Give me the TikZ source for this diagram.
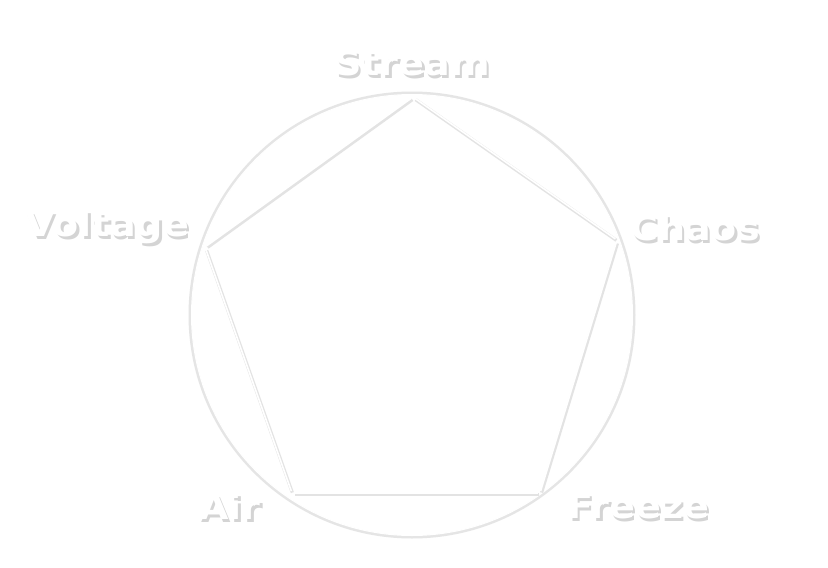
\documentclass[tikz,border=0pt]{standalone}
\usepackage{fontspec}
\setmainfont{DejaVu Sans}
\newfontfamily\wide[FakeStretch=1.12]{DejaVu Sans}
\newcommand{\shtxt}[1]{\rlap{\raisebox{-3pt}{\hspace{2.5pt}\textcolor{black!17}{#1}}}#1}
\begin{document}
\begin{tikzpicture}[x=1pt,y=-1pt,
  lbl/.style={font=\wide\bfseries\fontsize{34}{36}\selectfont, text=white, inner sep=0pt},
  vtx/.style={inner sep=0pt, minimum size=14pt},
  edgesh/.style={draw=black!11, line width=3.2pt, shorten <=2pt, shorten >=2pt},
  edgew/.style={draw=white, line width=1.6pt, shorten <=2pt, shorten >=2pt}]
\useasboundingbox[fill=white] (0,0) rectangle (828,568);
% circle
\node (ring) [circle, minimum size=446pt, inner sep=0pt] at (412,315) {};
\draw[black!10, line width=3pt] (ring.center) circle (222);
\draw[white, line width=1pt] (ring.center) circle (220.5);
% pentagon vertices
\node (v1) [vtx] at (413,97) {};
\node (v2) [vtx] at (617,240) {};
\node (v3) [vtx] at (540,493) {};
\node (v4) [vtx] at (292,493) {};
\node (v5) [vtx] at (205,247) {};
\foreach \a/\b in {v1/v2,v2/v3,v3/v4,v4/v5,v5/v1}{
  \draw[edgesh] ([shift={(1,1.5)}]\a.center) -- ([shift={(1,1.5)}]\b.center);
  \draw[edgew] (\a.center) -- (\b.center);
}
% labels
\node[lbl] (ls) at (412,65) {\shtxt{Stream}};
\node[lbl] (lv) at (107,229) {\shtxt{Voltage}};
\node[lbl] (lc) at (695,229) {\shtxt{Chaos}};
\node[lbl] (la) at (230,508) {\shtxt{Air}};
\node[lbl] (lf) at (638,508) {\shtxt{Freeze}};
\end{tikzpicture}
\end{document}
